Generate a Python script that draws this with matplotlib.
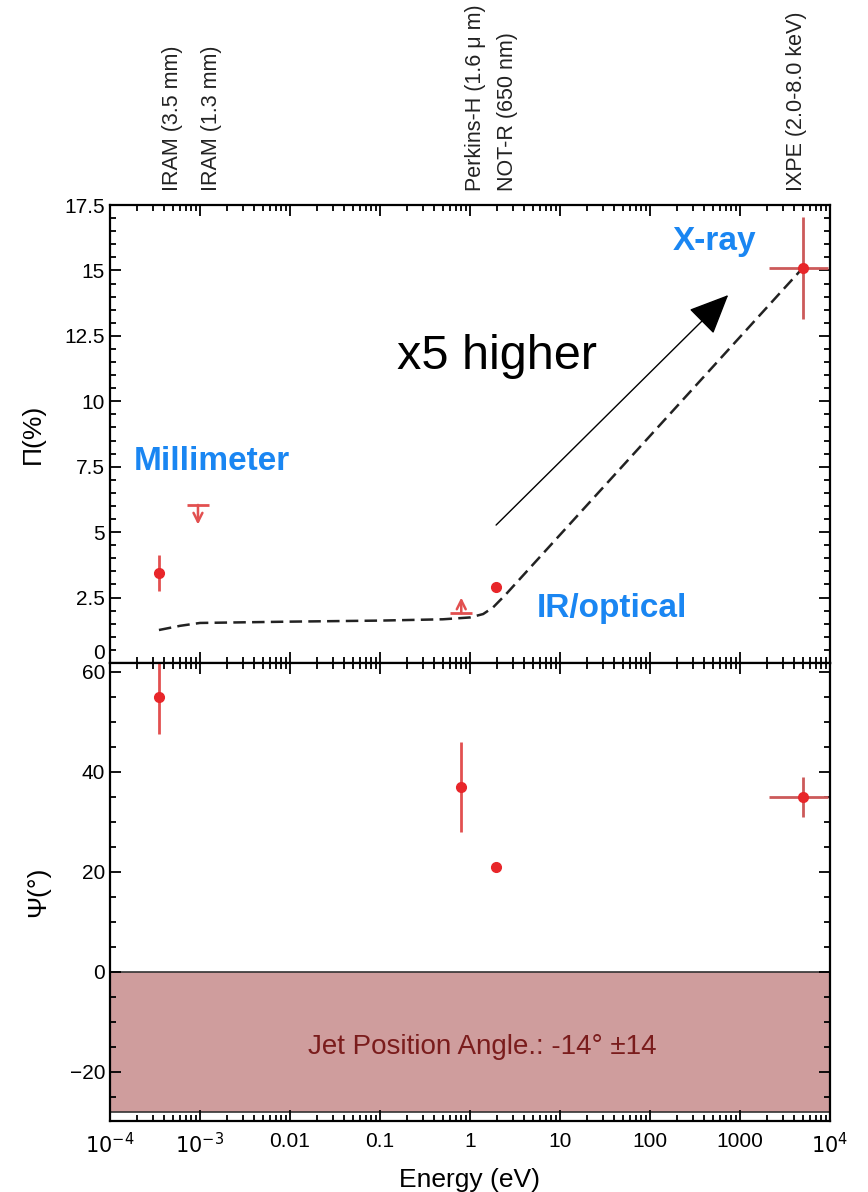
import matplotlib.pyplot as plt
from matplotlib.ticker import MultipleLocator, LogLocator, FixedLocator
import numpy as np

plt.rcParams['font.family'] = ['Liberation Sans', 'DejaVu Sans']

# measured polarization degree (%)
pd_energy = [3.5e-4, 1.95, 5000]
pd_value = [3.44, 2.9, 15.1]
pd_err = [0.67, 0.0, 1.95]
ixpe_band = [2100, 9500]

# limits
ul_energy, ul_value = 9.5e-4, 6.04   # IRAM 1.3 mm upper limit
ll_energy, ll_value = 0.8, 1.9       # Perkins-H lower limit

# polarization angle (deg)
pa_energy = [3.5e-4, 0.8, 1.95, 5000]
pa_value = [55, 37, 21, 35]
pa_err = [7.5, 9, 0, 4]

# model curve (dashed)
model_energy = [3.5e-4, 6e-4, 1e-3, 0.01, 0.1, 0.5, 1.0, 1.4, 1.8, 2.5, 5000]
model_pd = [1.26, 1.42, 1.53, 1.58, 1.62, 1.67, 1.74, 1.87, 2.12, 2.62, 15.1]

jet_pa, jet_err = -14, 14

band_names = ['IRAM (3.5 mm)', 'IRAM (1.3 mm)', 'Perkins-H (1.6 μ m)',
              'NOT-R (650 nm)', 'IXPE (2.0-8.0 keV)']
band_label_x = [4.9e-4, 1.36e-3, 1.14, 2.64, 4300]

red = '#e8262a'
bar_red = '#e25050'
blue = '#1a86f2'

fig = plt.figure(figsize=(8.68, 11.92), dpi=100)
ax1 = fig.add_axes([0.1267, 0.4438, 0.8295, 0.3842])
ax2 = fig.add_axes([0.1267, 0.0596, 0.8295, 0.3842], sharex=ax1)

# --- top panel: polarization degree ---
ax1.plot(model_energy, model_pd, ls=(0, (5, 2.5)), color='#222222', lw=1.8)
ixpe_xerr = [[pd_energy[2] - ixpe_band[0]], [ixpe_band[1] - pd_energy[2]]]
ax1.errorbar(pd_energy[:2], pd_value[:2], yerr=pd_err[:2], fmt='o', color=red,
             ecolor=bar_red, ms=7, elinewidth=2, capsize=0)
ax1.errorbar(pd_energy[2:], pd_value[2:], yerr=pd_err[2:], xerr=ixpe_xerr, fmt='o',
             color=red, ecolor='#cc5a5a', ms=7, elinewidth=2, capsize=0)

# upper / lower limit markers
ax1.plot([ul_energy], [ul_value], marker='_', ms=16, mew=2, color=bar_red)
ax1.annotate('', xy=(ul_energy, ul_value - 0.75), xytext=(ul_energy, ul_value),
             arrowprops=dict(arrowstyle='->', color=bar_red, lw=1.8, mutation_scale=16,
                             shrinkA=0, shrinkB=0))
ax1.plot([ll_energy], [ll_value], marker='_', ms=16, mew=2, color=bar_red)
ax1.annotate('', xy=(ll_energy, ll_value + 0.6), xytext=(ll_energy, ll_value),
             arrowprops=dict(arrowstyle='->', color=bar_red, lw=1.8, mutation_scale=16,
                             shrinkA=0, shrinkB=0))

# x5 arrow
ax1.annotate('', xy=(740, 14.06), xytext=(1.95, 5.27),
             arrowprops=dict(arrowstyle='-|>,head_length=0.9,head_width=0.4',
                             color='black', lw=1.0, mutation_scale=28,
                             shrinkA=0, shrinkB=0))
ax1.text(2.0, 11.7, 'x5 higher', fontsize=35, ha='center', va='center')

ax1.text(1.36e-3, 7.7, 'Millimeter', color=blue, fontsize=24, fontweight='bold',
         ha='center', va='center')
ax1.text(38, 2.1, 'IR/optical', color=blue, fontsize=24, fontweight='bold',
         ha='center', va='center')
ax1.text(515, 16.1, 'X-ray', color=blue, fontsize=24, fontweight='bold',
         ha='center', va='center')

ax1.set_xscale('log')
ax1.set_xlim(1e-4, 1e4)
ax1.set_ylim(0, 17.5)
ax1.yaxis.set_minor_locator(MultipleLocator(0.5))
ax1.set_yticks([0, 2.5, 5, 7.5, 10, 12.5, 15, 17.5])
ax1.set_yticklabels(['0', '2.5', '5', '7.5', '10', '12.5', '15', '17.5'])
ax1.get_yticklabels()[0].set_va('bottom')
ax1.set_ylabel('Π(%)', fontsize=19, labelpad=14)
ax1.tick_params(labelbottom=False)

# band names above the top panel
for name, xpos in zip(band_names, band_label_x):
    ax1.text(xpos, 1.03, name, rotation=90, fontsize=15.5, ha='center', va='bottom',
             color='#222222', transform=ax1.get_xaxis_transform())

# --- bottom panel: polarization angle ---
ax2.axhspan(jet_pa - jet_err, jet_pa + jet_err, facecolor='#cf9d9d', edgecolor='#333333',
            lw=1.2)
ax2.text(1.36, -15, 'Jet Position Angle.: -14° ±14', color='#7a1c1c', fontsize=20,
         ha='center', va='center')
ax2.errorbar(pa_energy[:3], pa_value[:3], yerr=pa_err[:3], fmt='o', color=red,
             ecolor=bar_red, ms=7, elinewidth=2, capsize=0)
ax2.errorbar(pa_energy[3:], pa_value[3:], yerr=pa_err[3:], xerr=ixpe_xerr, fmt='o',
             color=red, ecolor='#cc5a5a', ms=7, elinewidth=2, capsize=0)
ax2.set_ylim(-29.8, 61.8)
ax2.yaxis.set_major_locator(MultipleLocator(20))
ax2.yaxis.set_minor_locator(MultipleLocator(5))
ax2.set_ylabel('Ψ(°)', fontsize=19, labelpad=14)
ax2.set_xlabel('Energy (eV)', fontsize=19, labelpad=8)

xt = [1e-4, 1e-3, 1e-2, 1e-1, 1, 10, 100, 1000, 1e4]
ax2.xaxis.set_major_locator(FixedLocator(xt))
ax2.set_xticklabels([r'$10^{-4}$', r'$10^{-3}$', '0.01', '0.1', '1', '10', '100',
                     '1000', r'$10^{4}$'])
ax2.xaxis.set_minor_locator(LogLocator(base=10, subs=np.arange(2, 10), numticks=20))

for ax in (ax1, ax2):
    for s in ax.spines.values():
        s.set_linewidth(1.6)
    ax.tick_params(which='both', direction='in', top=True, right=True, width=1.3,
                   labelsize=15)
    ax.tick_params(which='major', length=8)
    ax.tick_params(which='minor', length=4)
ax2.tick_params(axis='x', pad=8)

fig.savefig('out.png', dpi=100)
